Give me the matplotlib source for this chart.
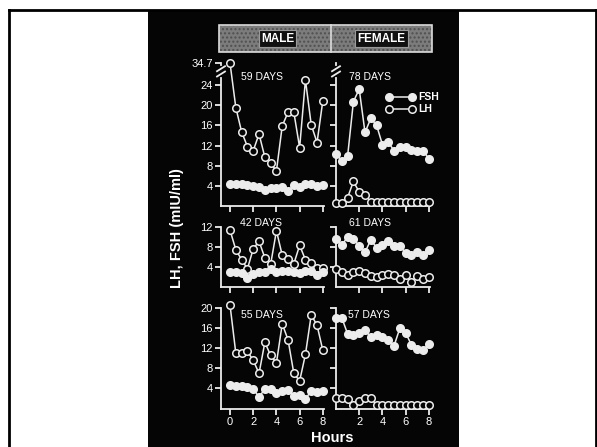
import numpy as np
import matplotlib
matplotlib.use("Agg")
import matplotlib.pyplot as plt
from matplotlib.patches import Rectangle
from matplotlib.lines import Line2D

plt.rcParams['font.family'] = ['Liberation Sans', 'DejaVu Sans']

# sampling times (hours) shared by every panel
hours = [0, 0.5, 1, 1.5, 2, 2.5, 3, 3.5, 4, 4.5, 5, 5.5, 6, 6.5, 7, 7.5, 8]

# male panels
male59_lh = [34.7, 19.5, 14.7, 11.8, 11.0, 14.3, 9.7, 8.5, 7.0, 15.9, 18.6, 18.6, 11.6, 25.0, 16.1, 12.6, 20.9]
male59_fsh = [4.3, 4.4, 4.4, 4.1, 4.0, 3.9, 3.3, 3.6, 3.6, 3.9, 3.0, 4.2, 3.9, 4.4, 4.3, 4.0, 4.2]
male42_lh = [11.4, 7.5, 5.5, 3.7, 7.7, 9.2, 5.9, 4.6, 11.3, 6.4, 5.7, 4.7, 8.4, 5.5, 4.8, 3.9, 3.9]
male42_fsh = [3.0, 3.0, 2.8, 1.8, 2.6, 3.0, 3.0, 3.6, 3.0, 3.2, 3.2, 3.0, 2.8, 3.3, 3.2, 2.5, 3.0]
male55_lh = [20.6, 11.0, 11.1, 11.4, 9.6, 7.0, 13.2, 10.6, 9.1, 16.9, 13.7, 7.0, 5.5, 10.8, 18.7, 16.6, 11.6]
male55_fsh = [4.7, 4.5, 4.4, 4.3, 3.9, 2.3, 3.9, 3.8, 3.1, 3.5, 3.7, 2.5, 2.6, 1.9, 3.5, 3.3, 3.4]

# female panels
female78_fsh = [10.4, 9.0, 9.9, 20.7, 23.2, 14.6, 17.4, 16.0, 12.2, 12.7, 11.0, 11.8, 11.8, 11.2, 11.0, 11.0, 9.4]
female78_lh = [0.6, 0.6, 1.7, 4.9, 2.8, 2.2, 0.9, 0.9, 0.9, 0.9, 0.9, 0.9, 0.9, 0.9, 0.9, 0.9, 0.9]
female61_fsh = [9.6, 8.4, 10.1, 9.7, 8.3, 7.0, 9.5, 7.9, 8.5, 9.3, 8.2, 8.3, 6.9, 6.4, 7.1, 6.4, 7.4]
female61_lh = [3.6, 3.1, 2.4, 3.1, 3.3, 2.9, 2.2, 2.1, 2.4, 2.7, 2.4, 1.7, 2.4, 1.1, 2.3, 1.7, 2.1]
female57_fsh = [18.0, 18.1, 14.9, 14.7, 15.1, 15.7, 14.2, 14.6, 14.2, 13.7, 12.5, 16.0, 15.1, 12.7, 11.9, 11.6, 12.9]
female57_lh = [2.1, 2.0, 1.9, 0.7, 1.5, 2.0, 2.0, 0.7, 0.7, 0.7, 0.7, 0.7, 0.7, 0.7, 0.7, 0.7, 0.7]

day_labels = ["59 DAYS", "78 DAYS", "42 DAYS", "61 DAYS", "55 DAYS", "57 DAYS"]

W, H = 597, 447
fg = '#ececec'

fig = plt.figure(figsize=(W / 100, H / 100), dpi=100, facecolor='white')


def fx(px):
    return px / W


def fy(py):
    return 1 - py / H


# slide background and outer frame
fig.add_artist(Rectangle((fx(148), 0), fx(459) - fx(148), fy(10), transform=fig.transFigure,
                         facecolor='#050505', edgecolor='none', zorder=-5))
for xs, ys in [([8.5, 8.5], [10, 447]), ([8.5, 596], [10, 10]), ([596, 596], [10, 447])]:
    fig.add_artist(Line2D([fx(x) for x in xs], [fy(y) for y in ys], transform=fig.transFigure,
                          color='black', lw=2, zorder=-4))

# header bar
fig.add_artist(Rectangle((fx(219), fy(52)), fx(432) - fx(219), fy(25) - fy(52), transform=fig.transFigure,
                         facecolor='#7c7c7c', edgecolor='#505050', hatch='....', lw=0))
fig.add_artist(Rectangle((fx(219), fy(52)), fx(432) - fx(219), fy(25) - fy(52), transform=fig.transFigure,
                         facecolor='none', edgecolor='#dcdcdc', lw=1.2))
fig.add_artist(Line2D([fx(331), fx(331)], [fy(25), fy(52)], transform=fig.transFigure, color='#dcdcdc', lw=1.2))
for txt, cx in [("MALE", 277.5), ("FEMALE", 381.5)]:
    fig.text(fx(cx), fy(38.5), txt, color='white', fontsize=8.5, fontweight='bold', ha='center', va='center',
             bbox=dict(facecolor='#101010', edgecolor='#9a9a9a', lw=0.8, boxstyle='square,pad=0.2'))

# broken y-axis for the top row: compress everything above 26
K = 0.264


def fwd(v):
    v = np.asarray(v, dtype=float)
    return np.where(v <= 26, v, 26 + (v - 26) * K)


def inv(u):
    u = np.asarray(u, dtype=float)
    return np.where(u <= 26, u, 26 + (u - 26) / K)


def style(ax, male, yticks, labels_x):
    ax.set_facecolor('none')
    for s in ['top', 'right']:
        ax.spines[s].set_visible(False)
    for s in ['left', 'bottom']:
        ax.spines[s].set_color(fg)
        ax.spines[s].set_linewidth(1.3)
    ax.set_xlim(-0.78 if male else 0, 8.1)
    ax.set_xticks([0, 2, 4, 6, 8] if male else [2, 4, 6, 8])
    if not labels_x:
        ax.set_xticklabels([])
    ax.set_yticks(yticks)
    if not male:
        ax.set_yticklabels([])
    ax.tick_params(direction='out', length=4, width=1.3, color=fg, labelcolor='white',
                   labelsize=8, pad=2)


def draw(ax, lh, fsh):
    ax.plot(hours, lh, color=fg, lw=1.1, marker='o', ms=5.4, mfc='#050505', mec=fg, mew=1.1,
            clip_on=False, zorder=3)
    ax.plot(hours, fsh, color=fg, lw=1.1, marker='o', ms=5.4, mfc=fg, mec=fg, mew=1.1,
            clip_on=False, zorder=4)


def draw_break(ax, wpx, hpx):
    ax.spines['left'].set_bounds(0, 25.4)
    t = ax.get_yaxis_transform()
    ax.plot([0, 0], [33.3, 34.7], transform=t, color=fg, lw=1.3, clip_on=False)
    dx = 4 / wpx
    dy = 2.5 / hpx
    for yc in [0.962, 0.925]:
        ax.plot([-dx, dx], [yc - dy, yc + dy], transform=ax.transAxes, color=fg, lw=1.3, clip_on=False)


rows = [
    (206.2, 142.9, 34.7, [4, 8, 12, 16, 20, 24, 34.7], male59_lh, male59_fsh, female78_lh, female78_fsh),
    (287.3, 60.0, 12, [4, 8, 12], male42_lh, male42_fsh, female61_lh, female61_fsh),
    (408.5, 100.2, 20, [4, 8, 12, 16, 20], male55_lh, male55_fsh, female57_lh, female57_fsh),
]

for r, (ybot, hpx, ymax, yt, mlh, mfsh, flh, ffsh) in enumerate(rows):
    last = r == 2
    axm = fig.add_axes([fx(221), fy(ybot), fx(324) - fx(221), hpx / H])
    axf = fig.add_axes([fx(336), fy(ybot), fx(430) - fx(336), hpx / H])
    for ax, male, lh, fsh, wpx in [(axm, True, mlh, mfsh, 103), (axf, False, flh, ffsh, 94)]:
        if r == 0:
            ax.set_yscale('function', functions=(fwd, inv))
        ax.set_ylim(0, ymax)
        style(ax, male, yt, last)
        if r == 0:
            ax.set_yticks(yt if male else yt[:-1])
            if male:
                ax.set_yticklabels(['4', '8', '12', '16', '20', '24', '34.7'])
            else:
                ax.set_yticklabels([])
            draw_break(ax, wpx, hpx)
        draw(ax, lh, fsh)

# panel annotations
day_pos = [(261.7, 77), (370, 77), (261.2, 222.7), (370, 222.7), (261.7, 315), (369, 315)]
for lab, (cx, cy) in zip(day_labels, day_pos):
    fig.text(fx(cx), fy(cy), lab, color='white', fontsize=7.5, ha='center', va='center')

# legend in the top female panel
for yy, face, name in [(96.7, fg, "FSH"), (109.3, '#050505', "LH")]:
    fig.add_artist(Line2D([fx(389), fx(412)], [fy(yy), fy(yy)], transform=fig.transFigure,
                          color=fg, lw=1.1, marker='o', ms=5.4, mfc=face, mec=fg, mew=1.1))
    fig.text(fx(418.5), fy(yy), name, color='white', fontsize=7.5, fontweight='bold', ha='left', va='center')

fig.text(fx(177), fy(228), "LH, FSH (mIU/ml)", color='white', fontsize=10.5, fontweight='bold',
         rotation=90, ha='center', va='center')
fig.text(fx(332), fy(438), "Hours", color='white', fontsize=10.5, fontweight='bold', ha='center', va='center')

fig.savefig("out.png", dpi=100, facecolor='white')
